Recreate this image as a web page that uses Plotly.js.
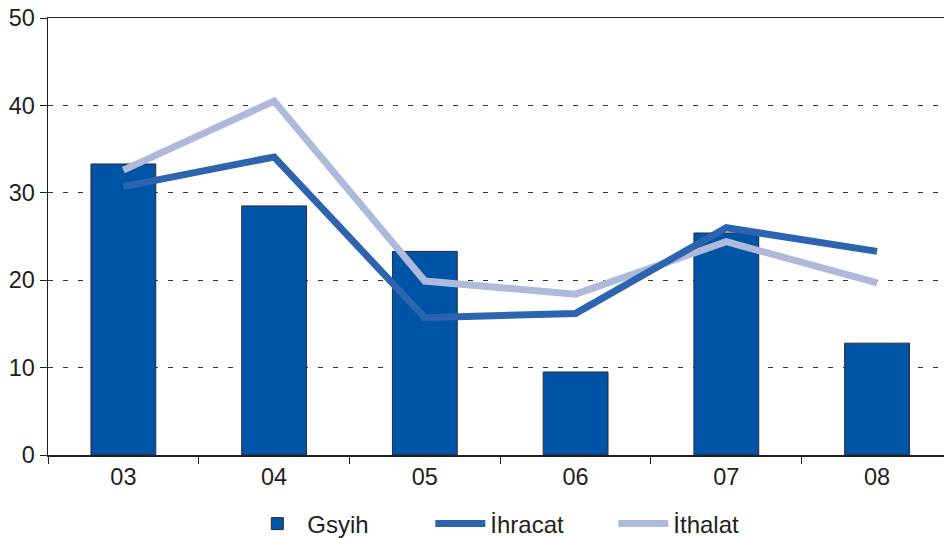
<!DOCTYPE html>
<html>
<head>
<meta charset="utf-8">
<script src="https://cdn.plot.ly/plotly-3.0.1.min.js"></script>
<style>
html,body{margin:0;padding:0;background:#fff;}
#chart{width:944px;height:538px;}
</style>
</head>
<body>
<div id="chart"></div>
<script>
var categories = ["03", "04", "05", "06", "07", "08"];
var gsyih   = [33.3, 28.5, 23.3, 9.5, 25.4, 12.8];
var ihracat = [30.7, 34.1, 15.7, 16.2, 26.0, 23.3];
var ithalat = [32.6, 40.5, 19.9, 18.4, 24.4, 19.7];
var seriesNames = ["Gsyih", "İhracat", "İthalat"];
var yTicks = [0, 10, 20, 30, 40, 50];

var fontFam = "Liberation Sans, Arial, Helvetica, sans-serif";

var traces = [
  {
    type: "bar", name: seriesNames[0], x: categories, y: gsyih,
    marker: {color: "#0054a5", line: {color: "#2b2b3a", width: 1}},
    width: 0.43, legendrank: 1
  },
  {
    type: "scatter", mode: "lines", name: seriesNames[2], x: categories, y: ithalat,
    line: {color: "#aeb9dc", width: 7}, legendrank: 3
  },
  {
    type: "scatter", mode: "lines", name: seriesNames[1], x: categories, y: ihracat,
    line: {color: "#2d64b0", width: 7}, legendrank: 2
  }
];

var layout = {
  width: 944, height: 538,
  margin: {l: 48, r: 0, t: 18, b: 83},
  paper_bgcolor: "#ffffff", plot_bgcolor: "#ffffff",
  font: {family: fontFam, size: 24, color: "#231f20"},
  showlegend: true,
  legend: {
    orientation: "h",
    xref: "container", yref: "container",
    x: 0.262, xanchor: "left", y: 0.026, yanchor: "middle",
    font: {family: fontFam, size: 24, color: "#231f20"},
    traceorder: "normal", itemwidth: 50,
    entrywidth: 118, entrywidthmode: "pixels"
  },
  xaxis: {
    type: "category",
    range: [-0.5, 5.444],
    showline: true, linecolor: "#231f20", linewidth: 1.5, mirror: true,
    ticks: "outside", ticklen: 7, tickwidth: 1, tickcolor: "#231f20",
    tickson: "boundaries",
    showgrid: false, zeroline: false,
    tickfont: {family: fontFam, size: 23.5, color: "#231f20"}
  },
  yaxis: {
    range: [0, 50],
    tickvals: yTicks,
    showline: true, linecolor: "#231f20", linewidth: 1.5,
    ticks: "outside", ticklen: 7, tickwidth: 1, tickcolor: "#231f20",
    showgrid: true, gridcolor: "#333333", gridwidth: 1, griddash: "5px,10px",
    zeroline: false,
    tickfont: {family: fontFam, size: 23.5, color: "#231f20"}
  }
};

Plotly.newPlot("chart", traces, layout, {displayModeBar: false, staticPlot: true});
</script>
</body>
</html>
